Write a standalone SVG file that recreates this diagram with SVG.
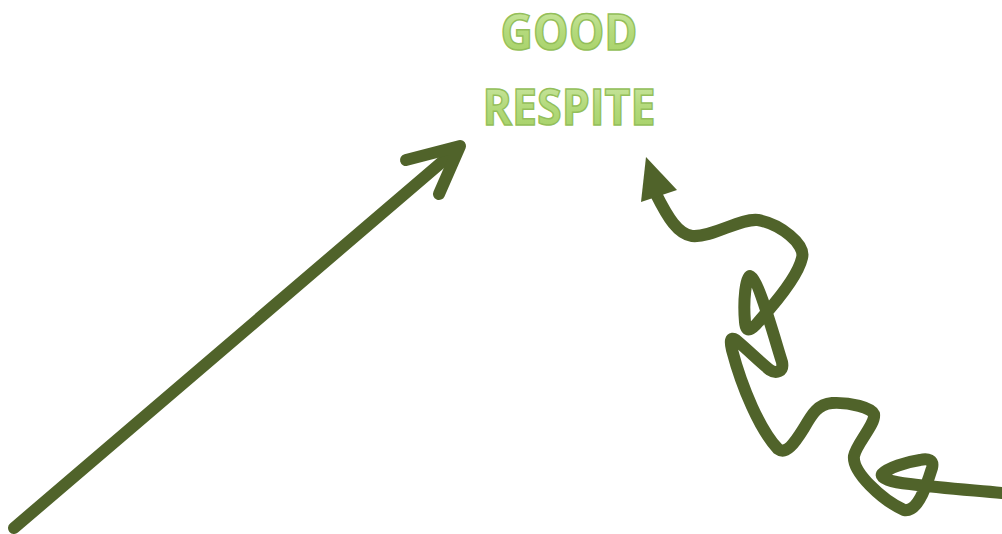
<svg xmlns="http://www.w3.org/2000/svg" width="1002" height="534" viewBox="0 0 1002 534">
<defs>
<linearGradient id="tg" x1="0" y1="0" x2="0" y2="1">
<stop offset="0" stop-color="#d3ebb0"/>
<stop offset="0.5" stop-color="#b4da7c"/>
<stop offset="1" stop-color="#a3cf62"/>
</linearGradient>
<style>
.t{font-family:"Open Sans","Liberation Sans",sans-serif;font-weight:bold;font-size:50px;fill:url(#tg);stroke:#94bf5a;stroke-width:1.5;text-anchor:middle}
.c{fill:none;stroke:#50632a;stroke-width:12;stroke-linecap:round;stroke-linejoin:round}
</style>
</defs>
<rect width="1002" height="534" fill="#ffffff"/>
<g id="title">
<text class="t" x="569" y="50" textLength="137" lengthAdjust="spacingAndGlyphs">GOOD</text>
<text class="t" x="569" y="125" textLength="173" lengthAdjust="spacingAndGlyphs">RESPITE</text>
</g>
<g id="connectors">
<path class="c" d="M14,528 L456,150"/>
<path class="c" d="M406,160 L460,146 L439,194"/>
<path class="c" d="M656,194 C668,218 678,234 692,236 C712,238 740,218 758,220 C780,224 806,244 802,258 C798,276 778,300 760,320 C752,330 746,334 745,322 C743,300 746,276 750,276 C758,278 775,340 782,362 C784,372 776,374 770,370 C760,362 748,350 736,340 C730,336 730,342 732,350 C742,388 760,430 778,449 C786,455 794,444 804,428 C812,414 818,404 832,403 C850,402 872,408 874,414 C876,424 856,444 854,456 C852,472 882,500 904,510 C916,512 924,494 932,468 C934,460 928,458 920,460 C906,462 888,468 882,474 C880,478 890,482 910,484 C940,488 970,490 1002,493"/>
<path d="M646,157 L641,202 L677,190 Z" fill="#50632a"/>
</g>
</svg>
